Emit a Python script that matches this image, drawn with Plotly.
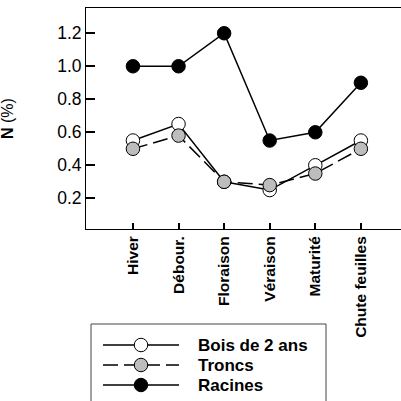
import plotly.graph_objects as go

# Sampling stages
stages = ["Hiver", "Débour.", "Floraison", "Véraison", "Maturité", "Chute feuilles"]

# Nitrogen content (% dry matter) per organ
bois_2ans = [0.55, 0.65, 0.30, 0.25, 0.40, 0.55]
troncs = [0.50, 0.58, 0.30, 0.28, 0.35, 0.50]
racines = [1.00, 1.00, 1.20, 0.55, 0.60, 0.90]

series_names = ["Bois de 2 ans", "Troncs", "Racines"]
y_ticks = [0.2, 0.4, 0.6, 0.8, 1.0, 1.2]

W, H = 401, 401
FONT = "Arial, 'Liberation Sans', sans-serif"

styles = [
    dict(fill="white", dash="solid"),
    dict(fill="#bdbdbd", dash="15px,6px"),
    dict(fill="black", dash="solid"),
]

def px_x(p):
    return p / W

def px_y(p):
    return (H - p) / H

fig = go.Figure()

# Main series
for name, vals, st in zip(series_names, [bois_2ans, troncs, racines], styles):
    fig.add_trace(go.Scatter(
        x=stages, y=vals, mode="lines+markers", name=name,
        line=dict(color="black", width=1.5, dash=st["dash"]),
        marker=dict(size=13.5, color=st["fill"], line=dict(color="black", width=1)),
        xaxis="x", yaxis="y", showlegend=False, cliponaxis=False,
    ))

# Legend samples on their own small axes
for i, (name, st) in enumerate(zip(series_names, styles)):
    row = 2 - i
    fig.add_trace(go.Scatter(
        x=[0, 1], y=[row, row], mode="lines",
        line=dict(color="black", width=1.5, dash=st["dash"]),
        xaxis="x2", yaxis="y2", showlegend=False, hoverinfo="skip",
    ))
    fig.add_trace(go.Scatter(
        x=[0.5], y=[row], mode="markers",
        marker=dict(size=13.5, color=st["fill"], line=dict(color="black", width=1)),
        xaxis="x2", yaxis="y2", showlegend=False, hoverinfo="skip",
    ))
    fig.add_annotation(
        x=1, y=row, xref="x2", yref="y2", xanchor="left", yanchor="middle", xshift=17,
        text=f"<b>{name}</b>", showarrow=False,
        font=dict(family=FONT, size=17, color="black"),
    )

# Legend frame
fig.add_shape(
    type="rect", xref="paper", yref="paper",
    x0=px_x(91), x1=px_x(326), y0=px_y(430), y1=px_y(324),
    line=dict(color="#444", width=1), fillcolor="rgba(0,0,0,0)", layer="below",
)

# Y-axis title
fig.add_annotation(
    x=px_x(19), y=px_y(119), xref="paper", yref="paper",
    xanchor="center", yanchor="middle", xshift=-11,
    text="<b>N</b> (%)", textangle=-90, showarrow=False,
    font=dict(family=FONT, size=16, color="black"),
)

fig.update_layout(
    width=W, height=H,
    margin=dict(l=0, r=0, t=0, b=0),
    paper_bgcolor="white", plot_bgcolor="white",
    font=dict(family=FONT, color="black"),
    xaxis=dict(
        domain=[px_x(86), 1.0],
        type="category", categoryorder="array", categoryarray=stages,
        range=[-1.03, 5.88],
        showline=True, linecolor="black", linewidth=1, mirror=True,
        ticks="inside", ticklen=6, tickcolor="black", tickwidth=1.5,
        tickangle=-90, showgrid=False, zeroline=False,
        tickfont=dict(family=FONT, size=15.5, color="black", weight="bold"),
        anchor="y",
    ),
    yaxis=dict(
        domain=[px_y(229), px_y(8)],
        range=[0.014, 1.353],
        tickvals=y_ticks, tickformat=".1f",
        showline=True, linecolor="black", linewidth=1,
        ticks="inside", ticklen=9, tickcolor="black", tickwidth=1.5,
        showgrid=False, zeroline=False,
        tickfont=dict(family=FONT, size=17.5, color="black"),
        anchor="x",
    ),
    xaxis2=dict(
        domain=[px_x(103), px_x(179)], range=[0, 1],
        visible=False, anchor="y2",
    ),
    yaxis2=dict(
        domain=[px_y(395), px_y(335)], range=[-0.5, 2.5],
        visible=False, anchor="x2",
    ),
)

fig.write_html("out.html")
